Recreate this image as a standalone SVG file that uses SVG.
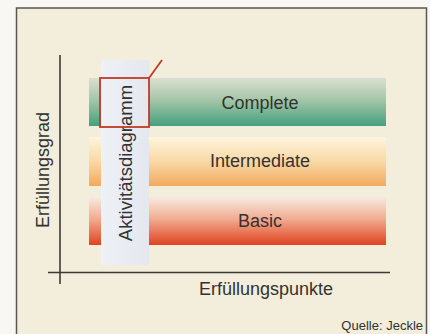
<svg xmlns="http://www.w3.org/2000/svg" width="430" height="334" viewBox="0 0 430 334">
  <defs>
    <linearGradient id="gGreen" x1="0" y1="0" x2="0" y2="1">
      <stop offset="0" stop-color="#dcdfd2"/>
      <stop offset="0.45" stop-color="#a6c6a8"/>
      <stop offset="1" stop-color="#44a07e"/>
    </linearGradient>
    <linearGradient id="gOrange" x1="0" y1="0" x2="0" y2="1">
      <stop offset="0" stop-color="#fdf5de"/>
      <stop offset="0.5" stop-color="#f9d9a6"/>
      <stop offset="1" stop-color="#f2a95e"/>
    </linearGradient>
    <linearGradient id="gRed" x1="0" y1="0" x2="0" y2="1">
      <stop offset="0" stop-color="#f6ebe2"/>
      <stop offset="0.45" stop-color="#f1ad92"/>
      <stop offset="1" stop-color="#e04320"/>
    </linearGradient>
    <linearGradient id="gStrip" x1="0" y1="0" x2="1" y2="0">
      <stop offset="0" stop-color="#eef1f6"/>
      <stop offset="1" stop-color="#e4e7ee"/>
    </linearGradient>
  </defs>
  <style>
    .lbl { font-family: "Liberation Sans", Arial, sans-serif; font-size: 18px; fill: #333230; }
    .axis { stroke: #3d3a35; stroke-width: 1.6; fill: none; }
    .hl { stroke: #c23a26; stroke-width: 1.8; fill: none; }
  </style>

  <!-- page and frame -->
  <rect x="0" y="0" width="430" height="334" fill="#f8f7f4"/>
  <rect id="frame" x="16.5" y="8" width="410" height="340" fill="#f2eedb" stroke="#5a5650" stroke-width="1.5"/>

  <!-- levels -->
  <g id="complete">
    <rect x="89" y="78" width="297" height="48" fill="url(#gGreen)"/>
    <text class="lbl" x="260" y="109" text-anchor="middle">Complete</text>
  </g>
  <g id="intermediate">
    <rect x="89" y="137" width="297" height="49" fill="url(#gOrange)"/>
    <text class="lbl" x="260" y="167" text-anchor="middle">Intermediate</text>
  </g>
  <g id="basic">
    <rect x="89" y="197" width="297" height="48" fill="url(#gRed)"/>
    <text class="lbl" x="260" y="227" text-anchor="middle">Basic</text>
  </g>

  <!-- activity diagram strip -->
  <g id="aktivitaetsdiagramm">
    <rect x="101" y="60" width="48" height="205" fill="url(#gStrip)"/>
    <text class="lbl" transform="translate(132 163) rotate(-90)" text-anchor="middle" style="font-size:18.5px">Aktivitätsdiagramm</text>
  </g>

  <!-- highlight marker -->
  <g id="connectors">
    <rect class="hl" x="100" y="78" width="49" height="49"/>
    <line class="hl" x1="149" y1="78" x2="162" y2="60"/>
  </g>

  <!-- axes -->
  <g id="axes">
    <line class="axis" x1="60" y1="55" x2="60" y2="284"/>
    <line class="axis" x1="48" y1="272.5" x2="390" y2="272.5"/>
    <text class="lbl" transform="translate(49 170) rotate(-90)" text-anchor="middle">Erfüllungsgrad</text>
    <text class="lbl" x="266" y="295" text-anchor="middle">Erfüllungspunkte</text>
  </g>

  <text id="quelle" class="lbl" x="423" y="330" text-anchor="end" style="font-size:13px">Quelle: Jeckle</text>
</svg>
